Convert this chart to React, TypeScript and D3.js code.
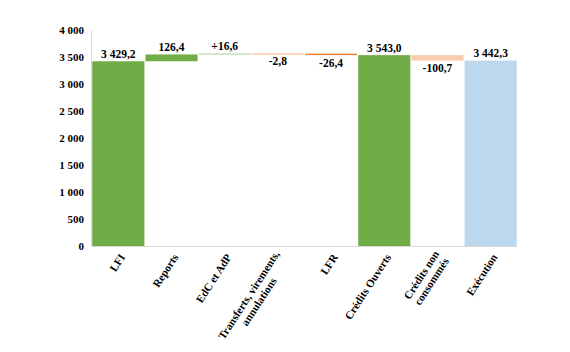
import { useRef, useEffect } from 'react'
import * as d3 from 'd3'

// waterfall steps: totals start from 0, deltas float on the running sum
const categories = [
  'LFI',
  'Reports',
  'EdC et AdP',
  'Transferts, virements,|annulations',
  'LFR',
  'Crédits Ouverts',
  'Crédits non|consommés',
  'Exécution',
]
const values = [3429.2, 126.4, 16.6, -2.8, -26.4, 3543.0, -100.7, 3442.3]
const isTotal = [true, false, false, false, false, true, false, true]
const plusSign = [false, false, true, false, false, false, false, false]
const yTicks = [0, 500, 1000, 1500, 2000, 2500, 3000, 3500, 4000]

const barColors = ['#70AD47', '#70AD47', '#A9D18E', '#F4B183', '#ED7D31', '#70AD47', '#F8CBAD', '#BDD7EE']

const frLocale = d3.formatLocale({
  decimal: ',',
  thousands: '\u00a0',
  grouping: [3],
  currency: ['', ''],
  minus: '-',
})

const App = () => {
  const svgRef = useRef<SVGSVGElement>(null)

  useEffect(() => {
    const svg = d3.select(svgRef.current)
    svg.selectAll('*').remove()

    const left = 92
    const right = 517
    const top = 30.5
    const bottom = 246

    // running sums
    let run = 0
    const steps = values.map((v, i) => {
      let start, end
      if (isTotal[i]) {
        start = 0
        end = v
        run = v
      } else {
        start = run
        end = run + v
        run = end
      }
      return { cat: categories[i], v, start, end, i }
    })

    const x = d3.scaleBand().domain(categories).range([left, right]).paddingInner(0.02).paddingOuter(0.005)
    const y = d3.scaleLinear().domain([0, 4000]).range([bottom, top])

    const num = frLocale.format(',.1f')
    const tickFmt = frLocale.format(',d')

    // axis lines
    svg.append('line')
      .attr('x1', left - 0.5).attr('x2', left - 0.5)
      .attr('y1', top).attr('y2', bottom)
      .attr('stroke', '#D9D9D9')
    svg.append('line')
      .attr('x1', left - 0.5).attr('x2', right)
      .attr('y1', bottom + 0.5).attr('y2', bottom + 0.5)
      .attr('stroke', '#D9D9D9')

    // y tick labels
    svg.append('g')
      .selectAll('text')
      .data(yTicks)
      .join('text')
      .attr('x', 84)
      .attr('y', (d) => y(d))
      .attr('dy', '0.35em')
      .attr('text-anchor', 'end')
      .attr('font-weight', 'bold')
      .attr('font-size', 11)
      .text((d) => tickFmt(d))

    // bars
    svg.append('g')
      .selectAll('rect')
      .data(steps)
      .join('rect')
      .attr('x', (d) => x(d.cat)!)
      .attr('width', x.bandwidth())
      .attr('y', (d) => y(Math.max(d.start, d.end)))
      .attr('height', (d) => Math.max(1, Math.abs(y(d.start) - y(d.end))))
      .attr('fill', (d) => barColors[d.i])

    // value labels
    svg.append('g')
      .selectAll('text')
      .data(steps)
      .join('text')
      .attr('x', (d) => x(d.cat)! + x.bandwidth() / 2)
      .attr('y', (d) =>
        d.v >= 0 ? y(Math.max(d.start, d.end)) - 3.5 : y(Math.min(d.start, d.end)) + 11.5
      )
      .attr('text-anchor', 'middle')
      .attr('font-weight', 'bold')
      .attr('font-size', 11.5)
      .text((d) => (plusSign[d.i] ? '+' : '') + num(d.v))

    // category labels, rotated; multi-line blocks are centred on their anchor
    const angle = -57
    const lh = 12
    const labels = svg.append('g')
    categories.forEach((c) => {
      const lines = c.split('|')
      const cx = x(c)! + x.bandwidth() / 2 + 4
      const g = labels.append('g').attr('transform', `translate(${cx},255) rotate(${angle})`)
      const texts = lines.map((ln, k) =>
        g.append('text')
          .attr('y', (k - (lines.length - 1) / 2) * lh)
          .attr('dy', '0.35em')
          .attr('font-weight', 'bold')
          .attr('font-size', 11)
          .text(ln)
      )
      const widths = texts.map((t) => (t.node() as SVGTextElement).getComputedTextLength())
      const w = Math.max(...widths)
      texts.forEach((t) => t.attr('x', -w / 2).attr('text-anchor', 'middle'))
    })
  }, [])

  return (
    <div>
      <svg
        ref={svgRef}
        width={570}
        height={352}
        fontFamily="'Liberation Serif', 'Times New Roman', Times, serif"
        style={{ position: 'absolute', left: 0, top: 0, background: '#fff' }}
      ></svg>
    </div>
  )
}

export default App
